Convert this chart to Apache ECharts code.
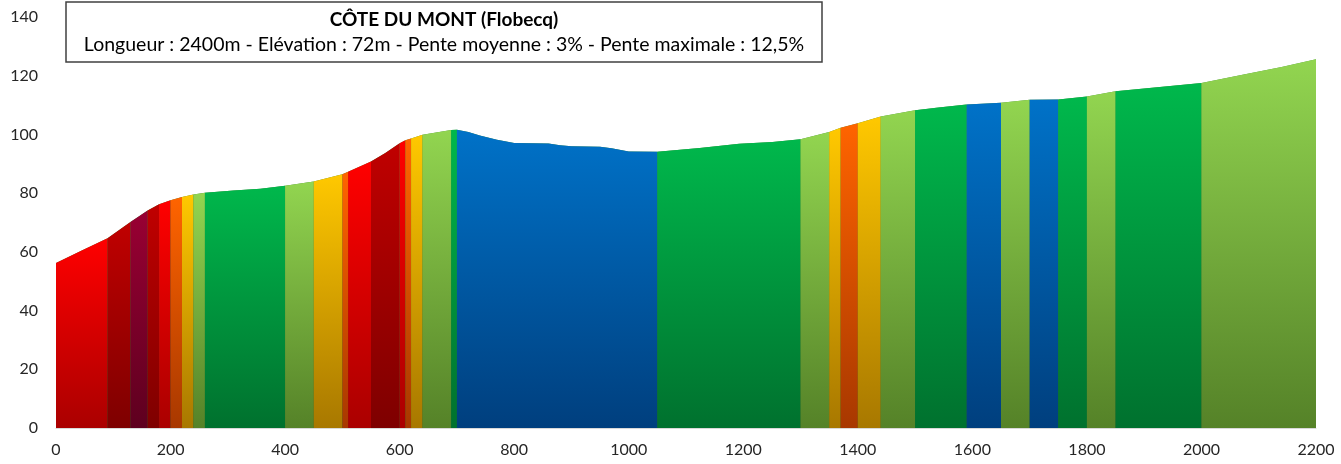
<!DOCTYPE html>
<html>
<head>
<meta charset="utf-8">
<script src="https://cdn.jsdelivr.net/npm/echarts@6.0.0/dist/echarts.min.js"></script>
<style>
    html, body { margin: 0; padding: 0; background: #fff; }
    #chart { width: 1341px; height: 464px; }
</style>
</head>
<body>
<div id="chart"></div>
<script>
// elevation profile (distance in m, altitude in m)
var dist = [0, 45, 90, 130, 160, 180, 200, 220, 240, 260, 310, 357, 400, 450, 500, 510, 550, 575, 600, 610, 620, 640, 690, 700,
    720, 740, 770, 800, 860, 880, 900, 950, 970, 1000, 1050, 1124, 1193, 1251, 1300, 1350, 1370, 1400, 1440, 1500, 1545, 1590,
    1650, 1700, 1750, 1800, 1850, 2000, 2076, 2140, 2200];
var elev = [56.2, 60.5, 64.6, 70.2, 74.1, 76.2, 77.6, 78.7, 79.5, 80.1, 80.9, 81.5, 82.5, 84.0, 86.4, 87.3, 90.8, 93.7, 97.0, 98.0, 98.6, 99.9, 101.5, 101.6,
    100.8, 99.6, 98.2, 97.1, 96.9, 96.3, 96.0, 95.8, 95.3, 94.2, 94.1, 95.4, 96.8, 97.4, 98.4, 100.8, 102.3, 103.8, 106.1, 108.2, 109.3, 110.2,
    110.8, 111.8, 111.9, 112.9, 114.7, 117.5, 120.5, 123.0, 125.6];

// slope segments: boundaries and colour class of each piece
var segBreaks = [0, 90, 130, 160, 180, 200, 220, 240, 260, 400, 450, 500, 510, 550, 600, 610, 620, 640, 690, 700,
    1050, 1300, 1350, 1370, 1400, 1440, 1500, 1590, 1650, 1700, 1750, 1800, 1850, 2000, 2200];
var segClass = ['red', 'darkred', 'maroon', 'darkred', 'red', 'orange', 'yellow', 'lightgreen', 'green', 'lightgreen',
    'yellow', 'orange', 'red', 'darkred', 'red', 'orange', 'yellow', 'lightgreen', 'green', 'blue',
    'green', 'lightgreen', 'yellow', 'orange', 'yellow', 'lightgreen', 'green', 'blue', 'lightgreen', 'blue',
    'green', 'lightgreen', 'green', 'lightgreen'];

var xTicks = [0, 200, 400, 600, 800, 1000, 1200, 1400, 1600, 1800, 2000, 2200];
var yTicks = [0, 20, 40, 60, 80, 100, 120, 140];

var palette = {
    red: ['#ff0000', '#aa0000'],
    darkred: ['#c00000', '#7e0000'],
    maroon: ['#990033', '#5e001f'],
    orange: ['#ff6400', '#a83800'],
    yellow: ['#ffc800', '#a87800'],
    lightgreen: ['#92d550', '#558228'],
    green: ['#00b84c', '#00712e'],
    blue: ['#0072c8', '#003f7e']
};

function gradient(top, bottom) {
    return new echarts.graphic.LinearGradient(0, 0, 0, 1, [
        { offset: 0, color: top },
        { offset: 1, color: bottom }
    ]);
}

function segData(a, b) {
    var pts = [];
    for (var i = 0; i < dist.length; i++) {
        if (dist[i] >= a && dist[i] <= b) pts.push([dist[i], elev[i]]);
    }
    return pts;
}

// base layer under the pieces so the seams between them don't show white
var series = [{
    type: 'line',
    data: segData(0, 2200),
    showSymbol: false,
    silent: true,
    lineStyle: { width: 0 },
    areaStyle: { opacity: 1, color: gradient('#4a9a40', '#2c5c24') }
}];
for (var s = 0; s < segClass.length; s++) {
    var c = palette[segClass[s]];
    series.push({
        type: 'line',
        data: segData(segBreaks[s], segBreaks[s + 1]),
        showSymbol: false,
        silent: true,
        lineStyle: { width: 0 },
        areaStyle: { opacity: 1, color: gradient(c[0], c[1]) }
    });
}

var chart = echarts.init(document.getElementById('chart'));
chart.setOption({
    animation: false,
    grid: { left: 56, right: 25, top: 17, bottom: 36 },
    xAxis: {
        type: 'value',
        min: xTicks[0],
        max: xTicks[xTicks.length - 1],
        interval: 200,
        axisLine: { show: true, lineStyle: { color: '#d9d9d9', width: 1 } },
        axisTick: { show: false },
        splitLine: { show: false },
        axisLabel: {
            color: '#262626', fontSize: 16, fontFamily: 'Lato', margin: 14,
            formatter: function (v) { return String(v); }
        }
    },
    yAxis: {
        type: 'value',
        min: yTicks[0],
        max: yTicks[yTicks.length - 1],
        interval: 20,
        axisLine: { show: false },
        axisTick: { show: false },
        splitLine: { show: false },
        axisLabel: { color: '#262626', fontSize: 16, fontFamily: 'Lato', margin: 18 }
    },
    graphic: [
        {
            type: 'rect',
            shape: { x: 66, y: 2, width: 756, height: 60 },
            style: { fill: '#fff', stroke: '#404040', lineWidth: 1.5 },
            z: 10
        },
        {
            type: 'text',
            x: 444, y: 20,
            style: {
                text: 'CÔTE DU MONT (Flobecq)',
                font: 'bold 19px Lato',
                fill: '#000',
                textAlign: 'center',
                textVerticalAlign: 'middle'
            },
            z: 11
        },
        {
            type: 'text',
            x: 444, y: 45,
            style: {
                text: 'Longueur : 2400m - Elévation : 72m - Pente moyenne : 3% - Pente maximale : 12,5%',
                font: '19.5px Lato',
                fill: '#000',
                textAlign: 'center',
                textVerticalAlign: 'middle'
            },
            z: 11
        }
    ],
    series: series
});
</script>
</body>
</html>
